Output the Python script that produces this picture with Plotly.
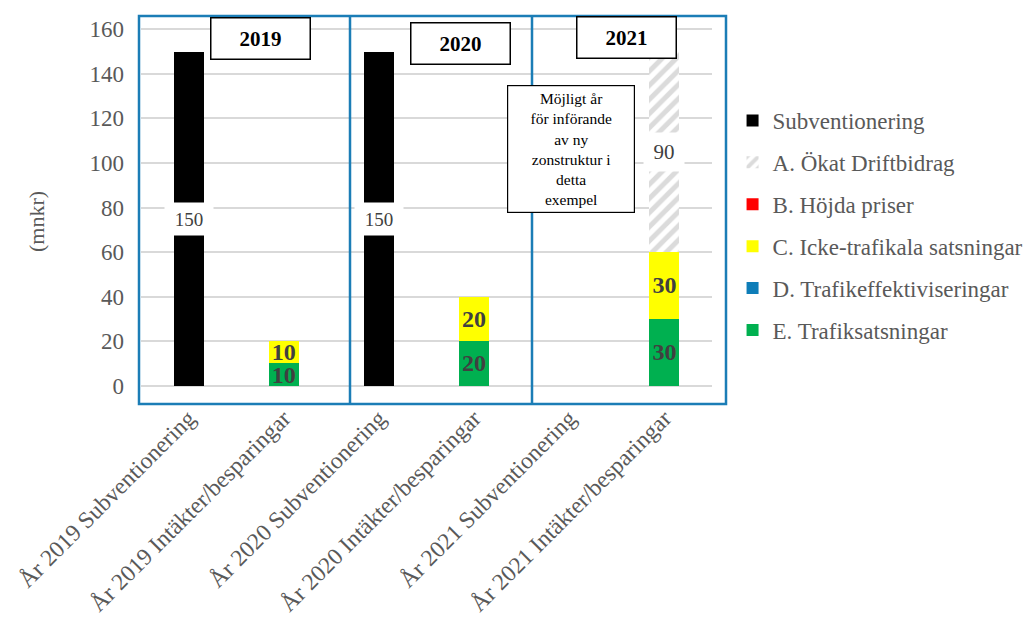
import plotly.graph_objects as go

categories = ["År 2019 Subventionering", "År 2019 Intäkter/besparingar",
              "År 2020 Subventionering", "År 2020 Intäkter/besparingar",
              "År 2021 Subventionering", "År 2021 Intäkter/besparingar"]
subventionering = [150, 0, 150, 0, 0, 0]
a_okat_driftbidrag = [0, 0, 0, 0, 0, 90]
b_hojda_priser = [0, 0, 0, 0, 0, 0]
c_icke_trafikala = [0, 10, 0, 20, 0, 30]
d_trafikeffektiv = [0, 0, 0, 0, 0, 0]
e_trafiksatsningar = [0, 10, 0, 20, 0, 30]
year_labels = ["2019", "2020", "2021"]
y_ticks = [0, 20, 40, 60, 80, 100, 120, 140, 160]
note_text = "Möjligt år<br>för införande<br>av ny<br>zonstruktur i<br>detta<br>exempel"

FONT = "Liberation Serif, Times New Roman, serif"
GRAY = "#595959"
LBL = "#404040"
BLUE = "#1b7db6"

def lbl(vals):
    return [str(v) if v else "" for v in vals]

fig = go.Figure()

fig.add_trace(go.Bar(name="E. Trafiksatsningar", x=categories, y=e_trafiksatsningar,
                     marker=dict(color="#00B050", line=dict(width=0)), legendrank=6, legendgroup="e",
                     text=lbl(e_trafiksatsningar), textposition="inside", insidetextanchor="middle",
                     textfont=dict(family=FONT, size=24, color=LBL, weight="bold"), textangle=0))
fig.add_trace(go.Bar(name="D. Trafikeffektiviseringar", x=categories, y=d_trafikeffektiv,
                     marker=dict(color="#0E7DB8", line=dict(width=0)), legendrank=5, legendgroup="d"))
fig.add_trace(go.Bar(name="C. Icke-trafikala satsningar", x=categories, y=c_icke_trafikala,
                     marker=dict(color="#FFFF00", line=dict(width=0)), legendrank=4, legendgroup="c",
                     text=lbl(c_icke_trafikala), textposition="inside", insidetextanchor="middle",
                     textfont=dict(family=FONT, size=24, color=LBL, weight="bold"), textangle=0))
fig.add_trace(go.Bar(name="B. Höjda priser", x=categories, y=b_hojda_priser,
                     marker=dict(color="#FF0000", line=dict(width=0)), legendrank=3, legendgroup="b"))
fig.add_trace(go.Bar(name="A. Ökat Driftbidrag", x=categories, y=a_okat_driftbidrag,
                     marker=dict(color="white", line=dict(width=0),
                                 pattern=dict(shape="/", fgcolor="#B8B8B8", bgcolor="white",
                                              size=10, solidity=0.5)),
                     legendrank=2, legendgroup="a"))
fig.add_trace(go.Bar(name="Subventionering", x=categories, y=subventionering,
                     marker=dict(color="#000000", line=dict(width=0)), legendrank=1, legendgroup="s"))

annotations = []
for cat, v in zip(categories, subventionering):
    if v:
        annotations.append(dict(x=cat, y=v / 2, xref="x", yref="y", text=str(v), showarrow=False,
                                font=dict(family=FONT, size=19, color=LBL), bgcolor="white",
                                width=46, height=30))
base = [e + d + c + b for e, d, c, b in zip(e_trafiksatsningar, d_trafikeffektiv, c_icke_trafikala, b_hojda_priser)]
for cat, v, b0 in zip(categories, a_okat_driftbidrag, base):
    if v:
        annotations.append(dict(x=cat, y=b0 + v / 2, xref="x", yref="y", text=str(v), showarrow=False,
                                font=dict(family=FONT, size=21, color=LBL), bgcolor="white",
                                width=38, height=36))

def px(xp):
    return (xp - 141) / 571.0
def py(yp):
    return (387 - yp) / 359.0

year_pos = [(260, 38.5), (460, 43.5), (626, 37.5)]
for yl, (cx, cy) in zip(year_labels, year_pos):
    annotations.append(dict(x=px(cx), y=py(cy), xref="paper", yref="paper", text=yl, showarrow=False,
                            font=dict(family=FONT, size=21, color="black", weight="bold"),
                            bgcolor="white", bordercolor="black", borderwidth=1.5,
                            width=96, height=38, xanchor="center", yanchor="middle"))

annotations.append(dict(x=px(571), y=py(149), xref="paper", yref="paper", text=note_text, showarrow=False,
                        font=dict(family=FONT, size=15.5, color="black"), bgcolor="white",
                        bordercolor="black", borderwidth=1.2, width=124, height=124,
                        xanchor="center", yanchor="middle", align="center"))

annotations.append(dict(x=px(36), y=py(222), xref="paper", yref="paper", text="(mnkr)", showarrow=False,
                        textangle=-90, xanchor="center", yanchor="middle",
                        font=dict(family=FONT, size=22, color=GRAY)))

shapes = [
    dict(type="rect", xref="paper", yref="paper", x0=px(139), x1=px(726), y0=py(404), y1=py(16),
         line=dict(color=BLUE, width=2.5), layer="above"),
    dict(type="line", xref="paper", yref="paper", x0=px(350), x1=px(350), y0=py(404), y1=py(16),
         line=dict(color=BLUE, width=2.5), layer="above"),
    dict(type="line", xref="paper", yref="paper", x0=px(532), x1=px(532), y0=py(404), y1=py(16),
         line=dict(color=BLUE, width=2.5), layer="above"),
]

fig.update_layout(
    barmode="stack", bargap=0.685,
    width=1032, height=619,
    margin=dict(l=141, r=320, t=28, b=232, autoexpand=False),
    plot_bgcolor="white", paper_bgcolor="white",
    font=dict(family=FONT, size=23, color=GRAY),
    showlegend=True,
    legend=dict(x=1.036, y=py(99), xanchor="left", yanchor="top",
                font=dict(family=FONT, size=23, color=GRAY), tracegroupgap=9,
                itemwidth=30),
    uniformtext=dict(minsize=24, mode="show"),
    annotations=annotations, shapes=shapes,
    xaxis=dict(tickangle=-45, tickfont=dict(family=FONT, size=23.5, color=GRAY),
               showgrid=False, showline=False, ticks="", automargin=False,
               ticklabelstandoff=12),
    yaxis=dict(range=[-0.6, 160.6], tickvals=y_ticks, showgrid=True, gridcolor="#D9D9D9", gridwidth=2,
               zeroline=False, showline=False, tickfont=dict(family=FONT, size=23, color=GRAY),
               ticklabelstandoff=16, automargin=False),
)

fig.write_html("out.html")
